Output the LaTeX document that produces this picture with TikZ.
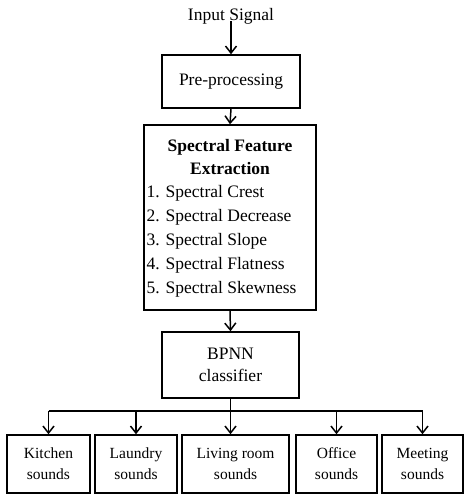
\documentclass[tikz,border=0pt]{standalone}
\usepackage{fontspec}
\setmainfont{Liberation Serif}
\usetikzlibrary{arrows.meta}
\begin{document}
\begin{tikzpicture}[x=1pt,y=-1pt,
  box/.style={draw, line width=1.5pt, inner sep=0pt, align=center, font=\fontsize{17.5}{22}\selectfont},
  leaf/.style={draw, line width=1.5pt, inner sep=0pt, align=center, font=\fontsize{15.5}{21}\selectfont, minimum height=58pt},
  txt/.style={inner sep=0pt, font=\fontsize{17.5}{22}\selectfont},
  arr/.style={line width=1.5pt, -{Straight Barb[length=7pt,width=11pt,line width=1.5pt]}}]
\useasboundingbox (0,0) rectangle (465,497);
\node[txt, anchor=base] (in) at (231,21) {Input Signal};
\node[box, minimum width=138pt, minimum height=53pt] (pre) at (231,81.5) {Pre-processing};
\node[box, minimum width=172pt, minimum height=185pt] (spec) at (230,217.5) {};
\node[txt, anchor=base, font=\fontsize{17.5}{22}\selectfont\bfseries] (t1) at (230,151) {Spectral Feature};
\node[txt, anchor=base, font=\fontsize{17.5}{22}\selectfont\bfseries] (t2) at (230,174) {Extraction};
\node[txt, anchor=base west] (i1) at (146.5,197) {1. Spectral Crest};
\node[txt, anchor=base west] (i2) at (146.5,221) {2. Spectral Decrease};
\node[txt, anchor=base west] (i3) at (146.5,245) {3. Spectral Slope};
\node[txt, anchor=base west] (i4) at (146.5,269) {4. Spectral Flatness};
\node[txt, anchor=base west] (i5) at (146.5,293) {5. Spectral Skewness};
\node[box, minimum width=137pt, minimum height=66pt] (bp) at (230.5,365) {BPNN\\classifier};
\node[leaf, minimum width=83pt] (k) at (48.5,464) {Kitchen\\sounds};
\node[leaf, minimum width=82pt] (l) at (136,464) {Laundry\\sounds};
\node[leaf, minimum width=107pt] (lr) at (235.5,464) {Living room\\sounds};
\node[leaf, minimum width=81pt] (o) at (336.5,464) {Office\\sounds};
\node[leaf, minimum width=81pt] (m) at (422.5,464) {Meeting\\sounds};
\coordinate (bus) at (0,411);
\draw[arr] (in.south) ++(0,-4) coordinate (ins) (ins) -- (pre.north);
\draw[arr] (pre.south) -- (spec.north);
\draw[arr] (spec.south) -- (bp.north);
\draw[arr] (bp.south) -- (bp.south |- lr.north);
\draw[line width=1.5pt] (k.north |- bus) -- (m.north |- bus);
\foreach \n in {k,l,o,m} \draw[arr] (\n.north |- bus) -- (\n.north);
\end{tikzpicture}
\end{document}
